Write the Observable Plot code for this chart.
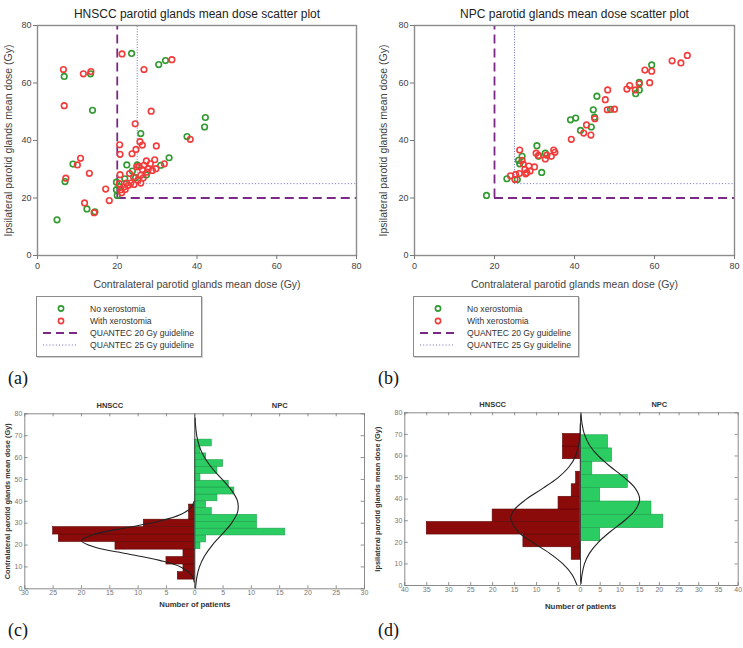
<!DOCTYPE html>
<html>
<head>
<meta charset="utf-8">
<script src="https://cdn.jsdelivr.net/npm/d3@7"></script>
<script src="https://cdn.jsdelivr.net/npm/@observablehq/plot@0.6"></script>
<style>
  body { margin: 0; background: #fff; }
  #page { position: relative; width: 743px; height: 648px; overflow: hidden; background: #fff;
          font-family: "Liberation Sans", Arial, sans-serif; }
  .panel { position: absolute; overflow: visible; }
  .tag { position: absolute; font-family: "Liberation Serif", "Times New Roman", serif; font-size: 18px;
         line-height: 1; color: #111; }
  .legend { position: absolute; width: 164px; height: 59px; border: 1px solid #8c8c8c; background: #fff;
            box-shadow: 1px 1px 0 #d0d0d0; }
  .legend svg { display: block; }
</style>
</head>
<body>
<div id="page"></div>
<script>
// ---- Scatter data: [contralateral mean dose, ipsilateral mean dose] in Gy ----
const hnsccNoXero = [
  [4.9, 12.4], [6.7, 62.3], [6.9, 25.7], [8.9, 31.8], [12.4, 16.2], [13.3, 63.2], [13.8, 50.5],
  [14.4, 15.2], [19.8, 25.5], [19.8, 22.9], [20.0, 20.9], [20.5, 24.0], [21.9, 26.7], [22.4, 31.5],
  [23.6, 70.3], [23.8, 29.4], [24.6, 27.1], [25.0, 31.5], [25.9, 42.4], [27.3, 28.0], [30.4, 66.4],
  [30.9, 31.4], [32.1, 67.8], [33.0, 34.0], [37.5, 41.4], [41.9, 44.7], [42.1, 48.0]
];
const hnsccWithXero = [
  [6.5, 64.7], [6.7, 52.1], [7.1, 26.9], [10.0, 31.5], [10.8, 33.8], [11.5, 63.2], [11.8, 18.3],
  [13.0, 28.6], [13.4, 64.0], [14.2, 14.9], [17.1, 23.1], [18.0, 19.1], [21.2, 70.1], [20.6, 38.5],
  [20.7, 35.2], [20.7, 28.1], [26.7, 64.7], [24.5, 45.8], [28.5, 50.2], [33.7, 68.1], [29.8, 38.1],
  [38.3, 40.4], [25.7, 39.6], [26.3, 38.4], [24.7, 36.9], [23.7, 35.4], [20.5, 25.0], [20.9, 22.9],
  [21.1, 21.8], [21.7, 23.8], [22.0, 23.0], [22.3, 25.2], [22.8, 24.4], [23.1, 28.5], [23.4, 25.2],
  [24.1, 27.3], [24.2, 24.7], [24.9, 30.8], [25.2, 26.2], [25.5, 31.0], [25.9, 27.9], [25.9, 25.2],
  [26.3, 29.9], [26.5, 27.0], [26.7, 31.4], [27.3, 32.9], [27.5, 29.0], [27.8, 30.2], [28.3, 31.9],
  [28.8, 29.6], [29.4, 33.3], [29.7, 30.2], [31.8, 31.9]
];
const npcNoXero = [
  [18.0, 20.9], [23.1, 26.7], [25.7, 26.4], [26.0, 33.1], [26.3, 31.9], [26.9, 34.5], [30.6, 38.2],
  [31.0, 34.5], [31.8, 28.9], [32.7, 35.6], [39.0, 47.2], [40.3, 47.8], [41.5, 43.5], [44.2, 44.7],
  [44.7, 50.7], [45.0, 48.1], [45.6, 55.4], [49.0, 50.8], [55.3, 56.3], [56.2, 57.6], [56.2, 60.2],
  [59.3, 66.3]
];
const npcWithXero = [
  [24.0, 27.7], [25.3, 28.2], [26.3, 36.7], [25.1, 26.4], [26.9, 33.1], [27.2, 31.8], [27.6, 29.9],
  [28.1, 28.8], [28.6, 31.1], [28.9, 29.4], [30.0, 30.8], [26.2, 28.5], [27.8, 28.4], [30.4, 35.6],
  [31.0, 34.8], [32.7, 33.6], [33.1, 34.9], [34.2, 34.5], [34.8, 36.7], [35.1, 35.9], [39.2, 40.4],
  [42.3, 42.6], [43.0, 45.4], [44.1, 41.9], [45.1, 47.6], [47.7, 54.2], [48.3, 57.6], [48.2, 50.7],
  [50.0, 50.9], [53.1, 57.9], [53.8, 59.1], [55.2, 57.6], [56.2, 59.7], [57.6, 64.5], [58.8, 60.1],
  [59.3, 64.1], [64.4, 67.7], [66.6, 67.0], [68.2, 69.6]
];
const quantecGuidelines = [20, 25];   // Gy
const doseTicks = [0, 20, 40, 60, 80];

// ---- Histogram data: bin edges (Gy) and patient counts, low dose to high dose ----
const hnsccContraEdges = [4.2, 7.6, 11.1, 14.5, 17.9, 21.4, 24.8, 28.2, 31.6, 35.1, 38.5];
const hnsccContraCounts = [3, 2, 5, 2, 14, 24, 25, 9, 1, 1];
const npcContraEdges = [18.1, 21.2, 24.4, 27.5, 30.6, 33.8, 36.9, 40.0, 43.1, 46.3, 49.4, 52.5, 55.7, 58.8, 61.9, 65.1, 68.2];
const npcContraCounts = [1, 2, 16, 11, 11, 3, 2, 4, 7, 6, 1, 4, 5, 2, 1, 3];
const hnsccIpsiEdges = [11.9, 17.7, 23.6, 29.4, 35.2, 41.1, 46.9, 52.7, 58.5, 64.4, 70.2];
const hnsccIpsiCounts = [2, 13, 35, 20, 5, 2, 1, 0, 4, 4];
const npcIpsiEdges = [20.5, 26.6, 32.8, 38.9, 45.1, 51.2, 57.3, 63.5, 69.6];
const npcIpsiCounts = [5, 21, 18, 5, 12, 3, 8, 7];

// Fitted normal curves: [dose (Gy), patients]
const hnsccContraCurve = [[3, 0.1], [6, 0.5], [10, 2.5], [13, 6.2], [16, 11.9], [19, 17.6], [22, 20], [25, 17.6],
  [28, 11.9], [31, 6.2], [34, 2.5], [37, 0.7], [40, 0.12]];
const npcContraCurve = [[0, 0.12], [5, 0.34], [10, 0.82], [15, 1.72], [20, 3.1], [25, 4.85], [30, 6.5], [35, 7.56],
  [40, 7.56], [45, 6.5], [50, 4.85], [55, 3.1], [60, 1.72], [65, 0.82], [70, 0.34], [75, 0.12], [78, 0.06]];
const hnsccIpsiCurve = [[0, 0.77], [5, 1.9], [10, 4.0], [15, 7.1], [20, 10.9], [25, 14.2], [31, 15.9], [35, 15.1],
  [40, 12.3], [45, 8.6], [50, 5.1], [55, 2.6], [60, 1.1], [65, 0.42], [70, 0.13], [75, 0.04]];
const npcIpsiCurve = [[1, 0.14], [5, 0.38], [10, 1.0], [15, 2.29], [20, 4.52], [25, 7.6], [30, 11.1], [35, 13.9],
  [40, 15], [45, 13.9], [50, 11.1], [55, 7.6], [60, 4.52], [65, 2.29], [70, 1.0], [75, 0.38], [80, 0.12]];

const groupNames = ["HNSCC", "NPC"];
const legendItems = ["No xerostomia", "With xerostomia", "QUANTEC 20 Gy guideline", "QUANTEC 25 Gy guideline"];

const GREEN = "#2f9a2f", RED = "#f23b3b", PURPLE = "#7a2a84", DOTBLUE = "#6e6ec4";
const BAR_RED = "#8b0b0b", BAR_GREEN = "#2bcd63";

const page = document.getElementById("page");

function place(node, left, top, cls = "panel") {
  node.classList.add(cls);
  node.style.left = left + "px";
  node.style.top = top + "px";
  page.appendChild(node);
  return node;
}

// ---- Scatter panel ----
function scatter({title, noXero, withXero, width, marginLeft, marginRight, ylabelDx}) {
  const [g20, g25] = quantecGuidelines;
  return Plot.plot({
    width, height: 300, marginLeft, marginRight, marginTop: 25, marginBottom: 45,
    x: {domain: [0, 80]},
    y: {domain: [0, 80]},
    style: {fontFamily: "Liberation Sans, Arial, sans-serif", color: "#444", background: "transparent", overflow: "visible"},
    marks: [
      Plot.ruleX([g20], {x: d => d, y1: g20, y2: 80, stroke: PURPLE, strokeWidth: 1.8, strokeDasharray: "9,5"}),
      Plot.ruleY([g20], {y: d => d, x1: g20, x2: 80, stroke: PURPLE, strokeWidth: 1.8, strokeDasharray: "9,5"}),
      Plot.ruleX([g25], {x: d => d, y1: g25, y2: 80, stroke: DOTBLUE, strokeWidth: 1, strokeDasharray: "1,1.6"}),
      Plot.ruleY([g25], {y: d => d, x1: g25, x2: 80, stroke: DOTBLUE, strokeWidth: 1, strokeDasharray: "1,2.2"}),
      Plot.dot(noXero, {x: d => d[0], y: d => d[1], r: 2.8, stroke: GREEN, strokeWidth: 1.6, fill: "none"}),
      Plot.dot(withXero, {x: d => d[0], y: d => d[1], r: 2.8, stroke: RED, strokeWidth: 1.6, fill: "none"}),
      Plot.frame({stroke: "#8c8c8c", strokeWidth: 1.4}),
      Plot.axisX({ticks: doseTicks, tickSize: 4, tickPadding: 3, label: null, fontSize: 9, stroke: "#777"}),
      Plot.axisY({ticks: doseTicks, tickSize: 4, tickPadding: 2, label: null, fontSize: 9, stroke: "#777"}),
      Plot.text([title], {text: d => d, frameAnchor: "top", dy: -16, fontSize: 12, fill: "#222"}),
      Plot.text(["Contralateral parotid glands mean dose (Gy)"], {text: d => d, frameAnchor: "bottom", dy: 32, fontSize: 10.5, fill: "#444"}),
      Plot.text(["Ipsilateral parotid glands mean dose (Gy)"], {text: d => d, frameAnchor: "left", dx: ylabelDx, rotate: -90,
        textAnchor: "middle", fontSize: 10.5, fill: "#444"})
    ]
  });
}

// ---- Legend box under each scatter ----
function legend() {
  const box = document.createElement("div");
  const svg = d3.select(box).append("svg").attr("width", 164).attr("height", 59);
  const rows = [11.5, 24, 36, 48];
  svg.append("circle").attr("cx", 24).attr("cy", rows[0]).attr("r", 2.6).attr("fill", "none").attr("stroke", GREEN).attr("stroke-width", 1.6);
  svg.append("circle").attr("cx", 24).attr("cy", rows[1]).attr("r", 2.6).attr("fill", "none").attr("stroke", RED).attr("stroke-width", 1.6);
  svg.append("line").attr("x1", 6).attr("x2", 41).attr("y1", rows[2]).attr("y2", rows[2]).attr("stroke", PURPLE).attr("stroke-width", 1.8).attr("stroke-dasharray", "8,5");
  svg.append("line").attr("x1", 6).attr("x2", 41).attr("y1", rows[3]).attr("y2", rows[3]).attr("stroke", DOTBLUE).attr("stroke-width", 1).attr("stroke-dasharray", "1,2.2");
  svg.selectAll("text.item").data(legendItems).join("text")
    .attr("x", 53).attr("y", (d, i) => rows[i]).attr("dy", "0.35em")
    .attr("font-size", 8.6).attr("fill", "#333").attr("font-family", "Liberation Sans, Arial, sans-serif")
    .text(d => d);
  return box;
}

// ---- Mirrored histogram panel ----
function mirrored({width, height, xMax, range, marginTop, marginBottom, ylabel, ylabelDx, xlabelDy,
                   leftEdges, leftCounts, rightEdges, rightCounts, leftCurve, rightCurve, labelX}) {
  const bins = (edges, counts, sign) => counts
    .map((c, i) => ({y1: edges[i], y2: edges[i + 1], x1: 0, x2: sign * c}))
    .filter(d => d.x2 !== 0);
  const xTicks = d3.range(-xMax, xMax + 1, 5);
  const yTicks = d3.range(0, 81, 10);
  const tx = xMax * 0.02, ty = 1.4;
  return Plot.plot({
    width, height, marginLeft: range[0], marginRight: width - range[2], marginTop, marginBottom,
    x: {type: "linear", domain: [-xMax, 0, xMax], range},
    y: {domain: [0, 80]},
    style: {fontFamily: "Liberation Sans, Arial, sans-serif", color: "#777", background: "transparent", overflow: "visible"},
    marks: [
      Plot.rect(bins(leftEdges, leftCounts, -1), {x1: "x2", x2: "x1", y1: "y1", y2: "y2", fill: BAR_RED, stroke: "#5e0505", strokeWidth: 0.6}),
      Plot.rect(bins(rightEdges, rightCounts, 1), {x1: "x1", x2: "x2", y1: "y1", y2: "y2", fill: BAR_GREEN, stroke: "#1f9e4c", strokeWidth: 0.6}),
      Plot.ruleX([0], {x: d => d, y1: 0, y2: 80, stroke: "#444", strokeWidth: 1}),
      Plot.line(leftCurve, {x: d => -d[1], y: d => d[0], curve: "catmull-rom", stroke: "#222", strokeWidth: 1.1}),
      Plot.line(rightCurve, {x: d => d[1], y: d => d[0], curve: "catmull-rom", stroke: "#222", strokeWidth: 1.1}),
      Plot.frame({stroke: "#8a8a8a", strokeWidth: 1}),
      // inward ticks on all four sides
      Plot.ruleX(xTicks, {x: d => d, y1: 0, y2: ty, stroke: "#777", strokeWidth: 0.8}),
      Plot.ruleX(xTicks, {x: d => d, y1: 80, y2: 80 - ty, stroke: "#777", strokeWidth: 0.8}),
      Plot.ruleY(yTicks, {y: d => d, x1: -xMax, x2: -xMax + tx, stroke: "#777", strokeWidth: 0.8}),
      Plot.ruleY(yTicks, {y: d => d, x1: xMax, x2: xMax - tx, stroke: "#777", strokeWidth: 0.8}),
      Plot.axisX({ticks: xTicks, tickSize: 0, tickPadding: 1.5, tickFormat: d => Math.abs(d), label: null, fontSize: 7}),
      Plot.axisY({ticks: yTicks, tickSize: 0, tickPadding: 2.5, label: null, fontSize: 7}),
      Plot.text(groupNames, {text: d => d, x: (d, i) => i === 0 ? -labelX[0] : labelX[1], frameAnchor: "top", dy: -11,
        fontSize: 7.5, fontWeight: "bold", fill: "#333"}),
      Plot.text(["Number of patients"], {text: d => d, x: () => 0, frameAnchor: "bottom", dy: xlabelDy,
        fontSize: 7.8, fontWeight: "bold", fill: "#333"}),
      Plot.text([ylabel], {text: d => d, frameAnchor: "left", dx: ylabelDx, rotate: -90, textAnchor: "middle",
        fontSize: 7.4, fontWeight: "bold", fill: "#333"})
    ]
  });
}

// (a) HNSCC scatter
place(scatter({title: "HNSCC parotid glands mean dose scatter plot", noXero: hnsccNoXero, withXero: hnsccWithXero,
  width: 370, marginLeft: 37, marginRight: 14, ylabelDx: -29}), 0, 0);
// (b) NPC scatter
place(scatter({title: "NPC parotid glands mean dose scatter plot", noXero: npcNoXero, withXero: npcWithXero,
  width: 373, marginLeft: 44, marginRight: 9, ylabelDx: -31}), 370, 0);

place(legend(), 36, 296, "legend");
place(legend(), 413, 296, "legend");

// (c) contralateral dose histograms
place(mirrored({width: 370, height: 273, xMax: 30, range: [24.3, 194.3, 364], marginTop: 38.3, marginBottom: 59.7,
  ylabel: "Contralateral parotid glands mean dose (Gy)", ylabelDx: -17.5, xlabelDy: 18.5,
  leftEdges: hnsccContraEdges, leftCounts: hnsccContraCounts, rightEdges: npcContraEdges, rightCounts: npcContraCounts,
  leftCurve: hnsccContraCurve, rightCurve: npcContraCurve, labelX: [15, 15]}), 0, 375);

// (d) ipsilateral dose histograms
place(mirrored({width: 373, height: 273, xMax: 40, range: [34.3, 210, 367.7], marginTop: 37.3, marginBottom: 63,
  ylabel: "Ipsilateral parotid glands mean dose (Gy)", ylabelDx: -27, xlabelDy: 23,
  leftEdges: hnsccIpsiEdges, leftCounts: hnsccIpsiCounts, rightEdges: npcIpsiEdges, rightCounts: npcIpsiCounts,
  leftCurve: hnsccIpsiCurve, rightCurve: npcIpsiCurve, labelX: [20, 20]}), 370, 375);

// panel tags
[["(a)", 8, 369], ["(b)", 378, 369], ["(c)", 8, 621], ["(d)", 378, 621]].forEach(([t, x, y]) => {
  const el = document.createElement("div");
  el.textContent = t;
  place(el, x, y, "tag");
});
</script>
</body>
</html>
